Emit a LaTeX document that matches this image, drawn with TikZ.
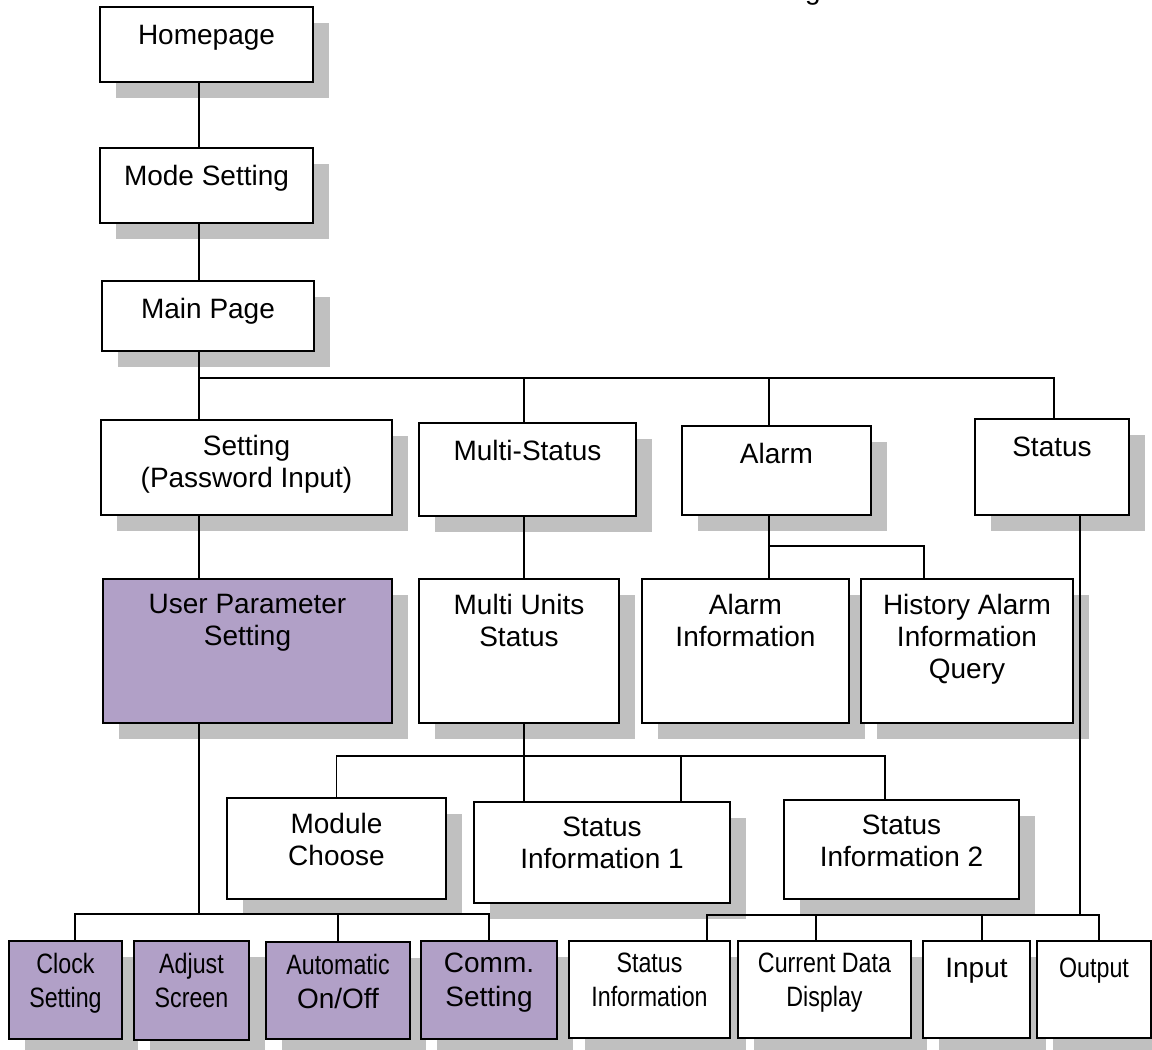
\documentclass[tikz,border=0pt]{standalone}
\usepackage{fontspec}
\setmainfont{Liberation Sans}
\newfontfamily\narrowfont[FakeStretch=0.83]{Liberation Sans}
\usepackage{xcolor}
\usetikzlibrary{shadows}
\definecolor{shadowgray}{HTML}{C0C0C0}
\definecolor{userpurple}{HTML}{B1A0C7}

\begin{document}
\begin{tikzpicture}[
  x=0.5pt, y=-0.5pt,
  pagebox/.style={draw=black, line width=1pt, fill=white, anchor=north west, inner sep=0pt,
    drop shadow={shadow xshift=8pt, shadow yshift=-8pt, opacity=1, fill=shadowgray}},
  userbox/.style={pagebox, fill=userpurple},
  link/.style={draw=black, line width=0.8pt},
  lbl/.style={anchor=north, yshift=-7.7pt, inner sep=0pt, align=center,
    font=\fontsize{14}{16}\selectfont, execute at begin node=\strut},
  lblrow/.style={anchor=north, yshift=-6.5pt, inner sep=0pt, align=center,
    font=\fontsize{14}{17}\selectfont, execute at begin node=\strut},
]
  \useasboundingbox (0,0) rectangle (1152,1050);

  % Cut title
  \node[anchor=base, inner sep=0pt, font=\fontsize{14}{16}\selectfont] (titlecut) at (813,-1) {g};

  % Upper pages
  \node[pagebox, minimum width=106.5pt, minimum height=37.5pt] (home) at (99,6) {};
  \node[pagebox, minimum width=106.5pt, minimum height=37.5pt] (mode) at (99,147) {};
  \node[pagebox, minimum width=106pt, minimum height=35pt] (main) at (101,280) {};
  \node[pagebox, minimum width=145.5pt, minimum height=47.5pt] (setting) at (100,419) {};
  \node[pagebox, minimum width=108.5pt, minimum height=46.5pt] (mstat) at (418,422) {};
  \node[pagebox, minimum width=94.5pt, minimum height=44.5pt] (alarm) at (681,425) {};
  \node[pagebox, minimum width=77pt, minimum height=48pt] (status) at (974,418) {};

  \node[lbl] (homeT) at (home.north) {Homepage};
  \node[lbl] (modeT) at (mode.north) {Mode Setting};
  \node[lbl] (mainT) at (main.north) {Main Page};
  \node[lbl] (settingT) at (setting.north) {Setting\\(Password Input)};
  \node[lbl] (mstatT) at (mstat.north) {Multi-Status};
  \node[lbl] (alarmT) at (alarm.north) {Alarm};
  \node[lbl] (statusT) at (status.north) {Status};

  % Second level
  \node[userbox, minimum width=144.5pt, minimum height=72pt] (ups) at (102,578) {};
  \node[pagebox, minimum width=100pt, minimum height=72pt] (mus) at (418,578) {};
  \node[pagebox, minimum width=103.5pt, minimum height=72pt] (ainfo) at (641,578) {};
  \node[pagebox, minimum width=106pt, minimum height=72pt] (hist) at (860,578) {};

  \node[lbl] (upsT) at (ups.north) {User Parameter\\Setting};
  \node[lbl] (musT) at (mus.north) {Multi Units\\Status};
  \node[lbl] (ainfoT) at (ainfo.north) {Alarm\\Information};
  \node[lbl] (histT) at (hist.north) {History Alarm\\Information\\Query};

  % Multi units pages
  \node[pagebox, minimum width=109.5pt, minimum height=50.5pt] (module) at (226,797) {};
  \node[pagebox, minimum width=128pt, minimum height=50.5pt] (sinfo1) at (473,801) {};
  \node[pagebox, minimum width=117.5pt, minimum height=49.5pt] (sinfo2) at (783,799) {};

  \node[lbl] (moduleT) at (module.north) {Module\\Choose};
  \node[lbl] (sinfo1T) at (sinfo1.north) {Status\\Information 1};
  \node[lbl] (sinfo2T) at (sinfo2.north) {Status\\Information 2};

  % Bottom row
  \node[userbox, minimum width=56.5pt, minimum height=49pt] (clock) at (8,940) {};
  \node[userbox, minimum width=57.5pt, minimum height=49.5pt] (adjust) at (133,940) {};
  \node[userbox, minimum width=72pt, minimum height=48.5pt] (auto) at (265,941) {};
  \node[userbox, minimum width=68pt, minimum height=49pt] (comm) at (420,940) {};
  \node[pagebox, minimum width=80.5pt, minimum height=48.5pt] (sinfo) at (568,940) {};
  \node[pagebox, minimum width=86.5pt, minimum height=48.5pt] (cdd) at (737,940) {};
  \node[pagebox, minimum width=53.5pt, minimum height=48.5pt] (input) at (922,940) {};
  \node[pagebox, minimum width=57pt, minimum height=48.5pt] (output) at (1036,940) {};

  \node[lblrow] (clockT) at (clock.north) {\narrowfont Clock\\\narrowfont Setting};
  \node[lblrow] (adjustT) at (adjust.north) {\narrowfont Adjust\\\narrowfont Screen};
  \node[lblrow] (autoT) at (auto.north) {\narrowfont Automatic\\On/Off};
  \node[lblrow] (commT) at (comm.north) {Comm.\\Setting};
  \node[lblrow] (sinfoT) at (sinfo.north) {\narrowfont Status\\\narrowfont Information};
  \node[lblrow] (cddT) at (cdd.north) {\narrowfont Current Data\\\narrowfont Display};
  \node[lblrow] (inputT) at (input.north) {Input};
  \node[lblrow] (outputT) at (output.north) {\narrowfont Output};

  % Columns and buses
  \coordinate (colL) at (199,0);
  \coordinate (colM) at (524,0);
  \coordinate (colA) at (769,0);
  \coordinate (colH) at (924,0);
  \coordinate (colS) at (1080,0);
  \coordinate (colStat) at (1054,0);
  \coordinate (colS1) at (681,0);
  \coordinate (colS2) at (885,0);
  \coordinate (colCk) at (75,0);
  \coordinate (colSi) at (707,0);
  \coordinate (colCd) at (816,0);
  \coordinate (colIn) at (982,0);
  \coordinate (colOut) at (1099,0);
  \coordinate (busMain) at (199,378);
  \coordinate (busAlarm) at (769,546);
  \coordinate (busMulti) at (524,756);
  \coordinate (busUser) at (199,914);
  \coordinate (busStat) at (1080,915);

  % Connectors
  \draw[link] (home.south -| colL) -- (mode.north -| colL);
  \draw[link] (mode.south -| colL) -- (main.north -| colL);
  \draw[link] (main.south -| colL) -- (setting.north -| colL);
  \draw[link] (busMain) -- (busMain -| colStat) -- (status.north -| colStat);
  \draw[link] (busMain -| colM) -- (mstat.north -| colM);
  \draw[link] (busMain -| colA) -- (alarm.north -| colA);

  \draw[link] (setting.south -| colL) -- (ups.north -| colL);
  \draw[link] (mstat.south -| colM) -- (mus.north -| colM);
  \draw[link] (alarm.south -| colA) -- (ainfo.north -| colA);
  \draw[link] (busAlarm) -- (busAlarm -| colH) -- (hist.north -| colH);

  \draw[link] (mus.south -| colM) -- (sinfo1.north -| colM);
  \draw[link] (module.north) -- (module.north |- busMulti) -- (busMulti -| colS2) -- (sinfo2.north -| colS2);
  \draw[link] (busMulti -| colS1) -- (sinfo1.north -| colS1);

  \draw[link] (ups.south -| colL) -- (busUser);
  \draw[link] (clock.north -| colCk) -- (busUser -| colCk) -- (busUser -| comm.north) -- (comm.north);
  \draw[link] (auto.north) -- (auto.north |- busUser);

  \draw[link] (status.south -| colS) -- (busStat);
  \draw[link] (sinfo.north -| colSi) -- (busStat -| colSi) -- (busStat -| colOut) -- (output.north -| colOut);
  \draw[link] (cdd.north -| colCd) -- (busStat -| colCd);
  \draw[link] (input.north -| colIn) -- (busStat -| colIn);
\end{tikzpicture}
\end{document}
